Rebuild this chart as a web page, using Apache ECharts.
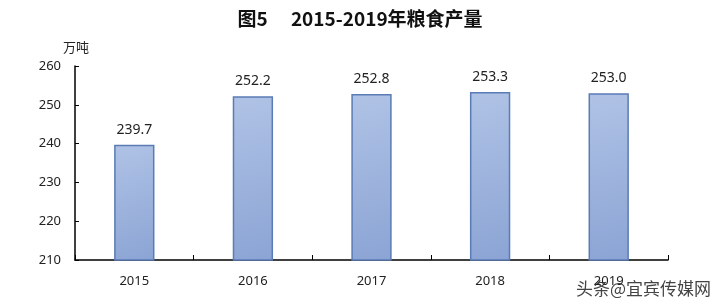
<!DOCTYPE html>
<html><head><meta charset="utf-8">
<script src="https://cdn.jsdelivr.net/npm/echarts@6/dist/echarts.min.js"></script>
<style>html,body{margin:0;padding:0;background:#fff}#c{width:720px;height:303px}</style>
</head><body><div id="c"></div>
<script>
const categories = ['2015', '2016', '2017', '2018', '2019'];
const production = [239.7, 252.2, 252.8, 253.3, 253.0];
const yTicks = [210, 220, 230, 240, 250, 260];
const titleText = '图5\u3000 2015-2019年粮食产量';
const unitText = '万吨';

const chart = echarts.init(document.getElementById('c'), null, {renderer: 'canvas'});
chart.setOption({
  animation: false,
  backgroundColor: '#fff',
  title: {
    text: titleText, left: 'center', top: 4,
    textStyle: {fontFamily: 'Noto Sans CJK SC', fontSize: 19, fontWeight: 'bold', color: '#111'}
  },
  grid: {left: 75, right: 52, top: 66, bottom: 43},
  xAxis: {
    type: 'category', data: categories,
    axisLine: {lineStyle: {color: '#000', width: 1.5}},
    axisTick: {show: true, inside: true, length: 5, alignWithLabel: false, lineStyle: {color: '#000'}},
    axisLabel: {color: '#222', fontSize: 13, fontFamily: 'Noto Sans', margin: 15}
  },
  yAxis: {
    type: 'value', min: yTicks[0], max: yTicks[yTicks.length - 1], interval: 10,
    name: unitText, nameLocation: 'end', nameGap: 12,
    nameTextStyle: {color: '#222', fontSize: 13, fontFamily: 'Noto Sans CJK SC', align: 'right', padding: [0, -14, 0, 0]},
    axisLine: {show: true, lineStyle: {color: '#000', width: 1.5}},
    axisTick: {show: true, inside: true, length: 4, lineStyle: {color: '#000'}},
    axisLabel: {color: '#222', fontSize: 13, fontFamily: 'Noto Sans', margin: 14},
    splitLine: {show: false}
  },
  series: [{
    type: 'bar', data: production, barWidth: '34%',
    itemStyle: {
      color: new echarts.graphic.LinearGradient(0, 0, 1, 1, [
        {offset: 0, color: '#B0C3E6'}, {offset: 1, color: '#8BA4D4'}
      ]),
      borderColor: '#5A7BB5', borderWidth: 1.5
    },
    label: {show: true, position: 'top', distance: 8, color: '#222', fontSize: 14, fontFamily: 'Noto Sans',
      formatter: p => p.value.toFixed(1)}
  }],
  graphic: [{
    type: 'text', right: 8, bottom: 5,
    style: {text: '头条@宜宾传媒网', fill: '#444', font: '17px "Noto Sans CJK SC"', stroke: '#fff', lineWidth: 2}
  }]
});
</script></body></html>
